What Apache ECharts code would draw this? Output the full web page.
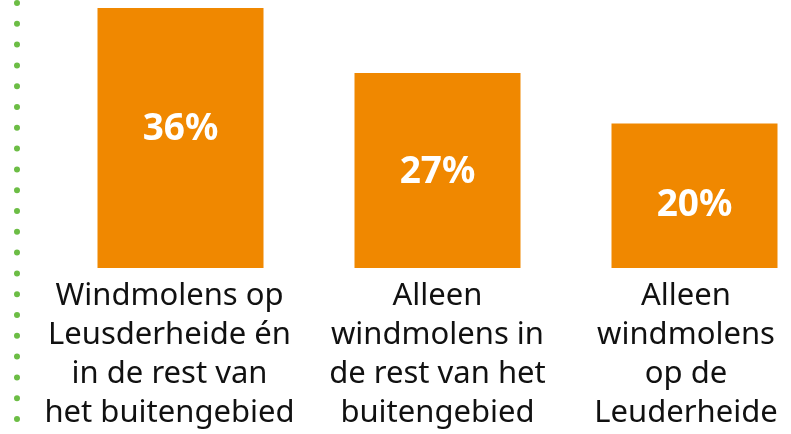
<!DOCTYPE html>
<html>
<head>
<meta charset="utf-8">
<script src="https://cdn.jsdelivr.net/npm/echarts@6/dist/echarts.min.js"></script>
<style>
  html, body { margin: 0; padding: 0; background: #fff; }
  #chart { width: 791px; height: 434px; }
</style>
</head>
<body>
<div id="chart"></div>
<script>
// categorieen en percentages
var categories = [
    'Windmolens op\nLeusderheide én\nin de rest van\nhet buitengebied',
    'Alleen\nwindmolens in\nde rest van het\nbuitengebied',
    'Alleen\nwindmolens\nop de\nLeuderheide'
];
var values = [36, 27, 20];

var chart = echarts.init(document.getElementById('chart'));

// labels staan in het origineel niet precies gecentreerd
var catPad = [[0, 22, 0, 0], [0, 0, 0, 0], [0, 17, 0, 0]];
var valOffset = [[0, -9], [0, 2], [0, 10]];

var option = {
    animation: false,
    grid: {
        left: 52,
        width: 771,
        top: 8,
        bottom: 166,
        outerBoundsMode: 'none',
        containLabel: false
    },
    xAxis: {
        type: 'category',
        data: categories.map(function (c, i) {
            return { value: c, textStyle: { padding: catPad[i] } };
        }),
        axisLine: { show: false },
        axisTick: { show: false },
        axisLabel: {
            interval: 0,
            margin: 9,
            color: '#111',
            fontFamily: 'Noto Sans',
            fontSize: 31,
            lineHeight: 39,
            align: 'center'
        }
    },
    yAxis: {
        type: 'value',
        min: 0,
        max: 36,
        show: false,
        splitLine: { show: false }
    },
    // groene stippellijn links
    graphic: [{
        type: 'line',
        shape: { x1: 17, y1: 3, x2: 17, y2: 424 },
        style: {
            stroke: '#6cbd45',
            lineWidth: 6,
            lineCap: 'round',
            lineDash: [0, 20.8]
        }
    }],
    series: [{
        type: 'bar',
        data: values.map(function (v, i) {
            return { value: v, label: { offset: valOffset[i] } };
        }),
        barWidth: 166,
        itemStyle: { color: '#f08800' },
        label: {
            show: true,
            position: 'inside',
            formatter: '{c}%',
            color: '#fff',
            fontFamily: 'Noto Sans',
            fontWeight: 'bold',
            fontSize: 37
        }
    }]
};

chart.setOption(option);
</script>
</body>
</html>
